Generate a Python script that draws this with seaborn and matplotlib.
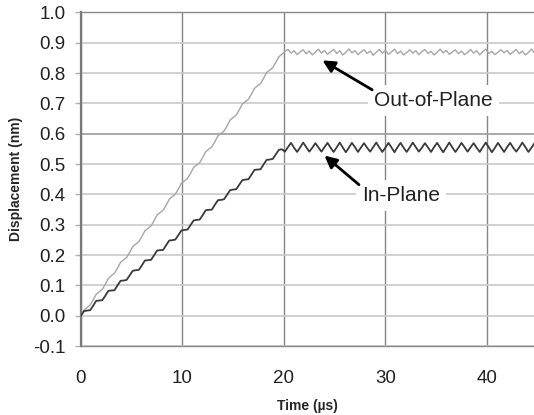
import numpy as np
import pandas as pd
import matplotlib
matplotlib.use("Agg")
import matplotlib.pyplot as plt
import seaborn as sns

# ---- data ----
time_us = np.round(np.arange(151) * 0.3, 1)

in_plane = [
    0.000, 0.015, 0.017, 0.018, 0.033, 0.049, 0.050, 0.051, 0.066, 0.082,
    0.083, 0.084, 0.100, 0.115, 0.116, 0.118, 0.133, 0.148, 0.150, 0.151,
    0.166, 0.182, 0.183, 0.184, 0.199, 0.215, 0.216, 0.217, 0.233, 0.248,
    0.249, 0.251, 0.266, 0.281, 0.283, 0.284, 0.299, 0.314, 0.316, 0.317,
    0.332, 0.348, 0.349, 0.350, 0.366, 0.381, 0.382, 0.384, 0.399, 0.414,
    0.416, 0.417, 0.432, 0.447, 0.449, 0.450, 0.465, 0.481, 0.482, 0.483,
    0.499, 0.514, 0.515, 0.517, 0.532, 0.547, 0.549,
    0.541, 0.556, 0.570, 0.554, 0.540, 0.555, 0.571, 0.556, 0.541, 0.554,
    0.569, 0.555, 0.541, 0.556, 0.570, 0.554, 0.540, 0.555, 0.571, 0.555,
    0.539, 0.554, 0.570, 0.556, 0.540, 0.555, 0.569, 0.554, 0.541, 0.556,
    0.571, 0.555, 0.540, 0.554, 0.570, 0.555, 0.539, 0.556, 0.570, 0.554,
    0.540, 0.555, 0.571, 0.556, 0.541, 0.554, 0.569, 0.555, 0.540, 0.556,
    0.570, 0.554, 0.539, 0.555, 0.571, 0.555, 0.540, 0.554, 0.570, 0.556,
    0.541, 0.555, 0.569, 0.554, 0.540, 0.556, 0.571, 0.555, 0.539, 0.554,
    0.570, 0.555, 0.540, 0.556, 0.570, 0.554, 0.541, 0.555, 0.571, 0.556,
    0.540, 0.554, 0.569, 0.555,
]

out_of_plane = [
    0.000, 0.019, 0.027, 0.035, 0.052, 0.071, 0.079, 0.087, 0.104, 0.123,
    0.132, 0.140, 0.157, 0.176, 0.184, 0.192, 0.209, 0.228, 0.236, 0.244,
    0.261, 0.280, 0.288, 0.296, 0.313, 0.332, 0.340, 0.348, 0.365, 0.384,
    0.393, 0.401, 0.418, 0.437, 0.445, 0.453, 0.470, 0.489, 0.497, 0.505,
    0.522, 0.541, 0.549, 0.557, 0.574, 0.593, 0.601, 0.609, 0.626, 0.645,
    0.654, 0.662, 0.679, 0.698, 0.706, 0.714, 0.731, 0.750, 0.758, 0.766,
    0.783, 0.802, 0.810, 0.818, 0.835, 0.854, 0.862,
    0.872, 0.878, 0.866, 0.874, 0.861, 0.870, 0.877, 0.864, 0.873, 0.860,
    0.869, 0.879, 0.866, 0.875, 0.862, 0.871, 0.878, 0.865, 0.874, 0.860,
    0.868, 0.880, 0.867, 0.874, 0.861, 0.870, 0.877, 0.865, 0.873, 0.859,
    0.869, 0.878, 0.866, 0.875, 0.862, 0.870, 0.879, 0.864, 0.873, 0.860,
    0.868, 0.877, 0.866, 0.874, 0.861, 0.871, 0.878, 0.865, 0.872, 0.860,
    0.869, 0.879, 0.867, 0.875, 0.862, 0.870, 0.877, 0.864, 0.873, 0.861,
    0.868, 0.878, 0.866, 0.874, 0.860, 0.871, 0.879, 0.865, 0.872, 0.861,
    0.869, 0.877, 0.867, 0.875, 0.862, 0.870, 0.878, 0.864, 0.873, 0.860,
    0.868, 0.879, 0.866, 0.874,
]

y_ticks = [-0.1, 0.0, 0.1, 0.2, 0.3, 0.4, 0.5, 0.6, 0.7, 0.8, 0.9, 1.0]
x_ticks = [0, 10, 20, 30, 40]

df = pd.DataFrame({"time": time_us, "in": in_plane, "out": out_of_plane})

# ---- style ----
sns.set_style("white")
plt.rcParams["font.family"] = ["Liberation Sans", "DejaVu Sans"]
plt.rcParams["axes.unicode_minus"] = False

fig = plt.figure(figsize=(5.34, 4.15), dpi=100)
ax = fig.add_axes([81 / 534, 1 - 346 / 415, 1 - 81 / 534, (346 - 12.5) / 415])

sns.lineplot(data=df, x="time", y="out", ax=ax, color="#a6a6a6", lw=1.0, zorder=3)
sns.lineplot(data=df, x="time", y="in", ax=ax, color="#3a3a3a", lw=1.3, zorder=4)

ax.set_xlim(0, 44.65)
ax.set_ylim(-0.1, 1.0)
ax.set_xticks(x_ticks)
ax.set_yticks(y_ticks)
ax.set_yticklabels([f"{v:.1f}" for v in y_ticks])
ax.set_xticklabels([str(v) for v in x_ticks])

ax.xaxis.grid(True, color="#858585", lw=1.0, zorder=1)
ax.yaxis.grid(True, color="#cacaca", lw=1.2, zorder=1)
ax.set_axisbelow(True)
for val, gl in zip(y_ticks, ax.get_ygridlines()):
    if abs(val - 0.6) < 1e-9:
        gl.set_color("#9a9a9a")

ax.spines["right"].set_visible(False)
ax.spines["left"].set_color("#7a7a7a")
ax.spines["left"].set_linewidth(1.6)
for side in ["top", "bottom"]:
    ax.spines[side].set_color("#8a8a8a")
    ax.spines[side].set_linewidth(1.0)
    ax.spines[side].set_linestyle((0, (1, 1)))

ax.tick_params(axis="y", direction="out", length=4.3, width=1.0, color="#b0b0b0",
               pad=7, labelsize=13.5, labelcolor="#222222", left=True)
ax.tick_params(axis="x", length=0, pad=17, labelsize=13.5, labelcolor="#222222")

ax.set_xlabel("Time (µs)", fontsize=10, fontweight="bold", labelpad=9)
ax.set_ylabel("Displacement (nm)", fontsize=10, fontweight="bold", labelpad=7)

bbox = dict(boxstyle="square,pad=0.3", fc="white", ec="none")
arrow = dict(arrowstyle="-|>", color="black", lw=2.0, mutation_scale=18,
             shrinkA=0, shrinkB=0)

ax.text(28.9, 0.71, "Out-of-Plane", fontsize=15, color="#222222",
        va="center", ha="left", bbox=bbox, zorder=5)
ax.annotate("", xy=(23.8, 0.842), xytext=(28.7, 0.745), arrowprops=arrow, zorder=6)

ax.text(27.7, 0.396, "In-Plane", fontsize=15, color="#222222",
        va="center", ha="left", bbox=bbox, zorder=5)
ax.annotate("", xy=(24.0, 0.528), xytext=(27.4, 0.432), arrowprops=arrow, zorder=6)

fig.savefig("out.png", dpi=100)
